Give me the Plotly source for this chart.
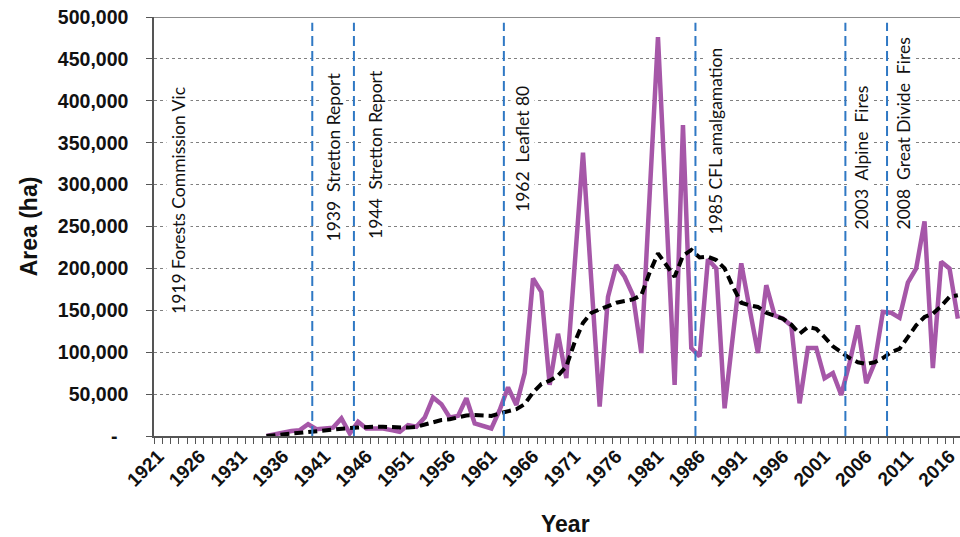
import plotly.graph_objects as go

years = list(range(1934, 2018))
area = [0, 2000, 5000, 6000, 7000, 14000, 8000, 9500, 10000, 21000,
        3000, 17000, 9000, 9000, 9000, 7000, 5000, 13000, 11000, 22000,
        46000, 38000, 22000, 24000, 45000, 15000, 12000, 9000, 31000, 58000,
        37000, 75000, 188000, 172000, 61000, 122000, 69000, 200000, 338000, 185000,
        35000, 166000, 204000, 190000, 168000, 99000, 288000, 476000, 268000, 61000,
        371000, 105000, 95000, 211000, 200000, 33000, 120000, 206000, 152000, 99000,
        180000, 144000, 140000, 132000, 39000, 105000, 105000, 69000, 75000, 49000,
        87000, 132000, 63000, 87000, 148000, 147000, 141000, 183000, 200000, 256000,
        81000, 208000, 200000, 140000]
moving_avg = [0, 1000, 2000, 3000, 4000, 5500, 6500, 7500, 8000, 9000,
              9500, 10000, 11000, 11000, 11000, 10500, 10000, 10000, 11000, 14000,
              17000, 19000, 20000, 22000, 24500, 25000, 25000, 24000, 27000, 30000,
              32000, 38000, 52000, 62000, 66000, 72000, 83000, 112000, 135000, 147000,
              151000, 156000, 159000, 161000, 163000, 168000, 195000, 218000, 204000, 190000,
              215000, 222000, 213000, 214000, 210000, 200000, 178000, 159000, 156000, 154000,
              147000, 144000, 140000, 133000, 122000, 130000, 128000, 118000, 107000, 100000,
              93000, 88000, 86000, 88000, 93000, 100000, 104000, 118000, 132000, 142000,
              146000, 155000, 166000, 168000]

event_years = [1939, 1944, 1962, 1985, 2003, 2008]
event_labels = ["1919 Forests Commission Vic", "1939\u00a0 Stretton Report", "1944\u00a0 Stretton Report",
                "1962\u00a0 Leaflet 80", "1985 CFL amalgamation", "2003\u00a0 Alpine\u00a0 Fires",
                "2008\u00a0 Great Divide\u00a0 Fires"]

label_years = list(range(1921, 2017, 5))
y_ticks = list(range(0, 500001, 50000))
y_tick_text = ["-\u00a0\u00a0"] + [f"{v:,}" for v in y_ticks[1:]]

# layout geometry (pixels)
W, H = 960, 537
L, T, B, R = 154, 17, 436, 960


def px(x):
    return (x - L) / (R - L)


def py(y):
    return (B - y) / (B - T)


fig = go.Figure()
fig.add_trace(go.Scatter(x=years, y=area, mode="lines",
                         line=dict(color="#A657A8", width=4.5), showlegend=False, hoverinfo="skip"))
fig.add_trace(go.Scatter(x=years, y=moving_avg, mode="lines",
                         line=dict(color="#000000", width=4, dash="9px,5px"), showlegend=False, hoverinfo="skip"))

shapes = []
for yr in event_years:
    shapes.append(dict(type="line", xref="x", yref="y", x0=yr + 0.5, x1=yr + 0.5, y0=0, y1=493000,
                       line=dict(color="#2F78C4", width=2, dash="10px,5px"), layer="above"))
shapes.append(dict(type="line", xref="paper", yref="y", x0=0, x1=1, y0=500000, y1=500000,
                   line=dict(color="#666666", width=1.5)))

ann_pos = [(178, 201), (333, 157.5), (376, 155), (522.5, 149.5), (715, 141.5), (861, 157.5), (903, 133.5)]
annotations = []
for (ax, ay), txt in zip(ann_pos, event_labels):
    annotations.append(dict(text=txt, xref="paper", yref="paper", x=px(ax), y=py(ay),
                            xanchor="center", yanchor="middle", textangle=-90, showarrow=False,
                            bgcolor="white", borderpad=1,
                            font=dict(family="Lato", size=17.5, color="#111111")))
annotations.append(dict(text="<b>Year</b>", xref="paper", yref="paper", x=px(565), y=py(524),
                        xanchor="center", yanchor="middle", showarrow=False,
                        font=dict(family="Liberation Sans", size=23, color="#111111")))

fig.update_layout(
    width=W, height=H,
    margin=dict(l=L, r=W - R, t=T, b=H - B, autoexpand=False),
    paper_bgcolor="white", plot_bgcolor="white",
    shapes=shapes, annotations=annotations,
    showlegend=False,
)
fig.update_xaxes(
    range=[1920.5, 1920.5 + (R - L) / 8.33],
    tickvals=label_years, ticktext=[str(v) for v in label_years],
    tickangle=-45, ticks="", showgrid=False, automargin=False,
    tickfont=dict(family="Liberation Sans", size=19, color="#111111", weight="bold"),
    showline=True, linecolor="#555555", linewidth=1.5,
    minor=dict(tick0=1920.5, dtick=1, ticks="outside", ticklen=6, tickcolor="#555555", tickwidth=1, showgrid=False),
    zeroline=False,
)
fig.update_yaxes(
    range=[0, 500000], tickvals=y_ticks, ticktext=y_tick_text, automargin=False,
    ticks="outside", ticklen=6, tickcolor="#555555", tickwidth=1,
    ticklabelstandoff=14,
    tickfont=dict(family="Liberation Sans", size=19.5, color="#111111", weight="bold"),
    showgrid=True, gridcolor="#808080", gridwidth=1, griddash="dot",
    showline=True, linecolor="#555555", linewidth=1.5, zeroline=False,
    title=dict(text="<b>Area (ha)</b>", font=dict(family="Liberation Sans", size=23, color="#111111"), standoff=14),
)

fig.write_html("out.html", config={"displayModeBar": False},
               post_script="document.body.style.margin='0px';document.body.style.overflow='hidden';")
